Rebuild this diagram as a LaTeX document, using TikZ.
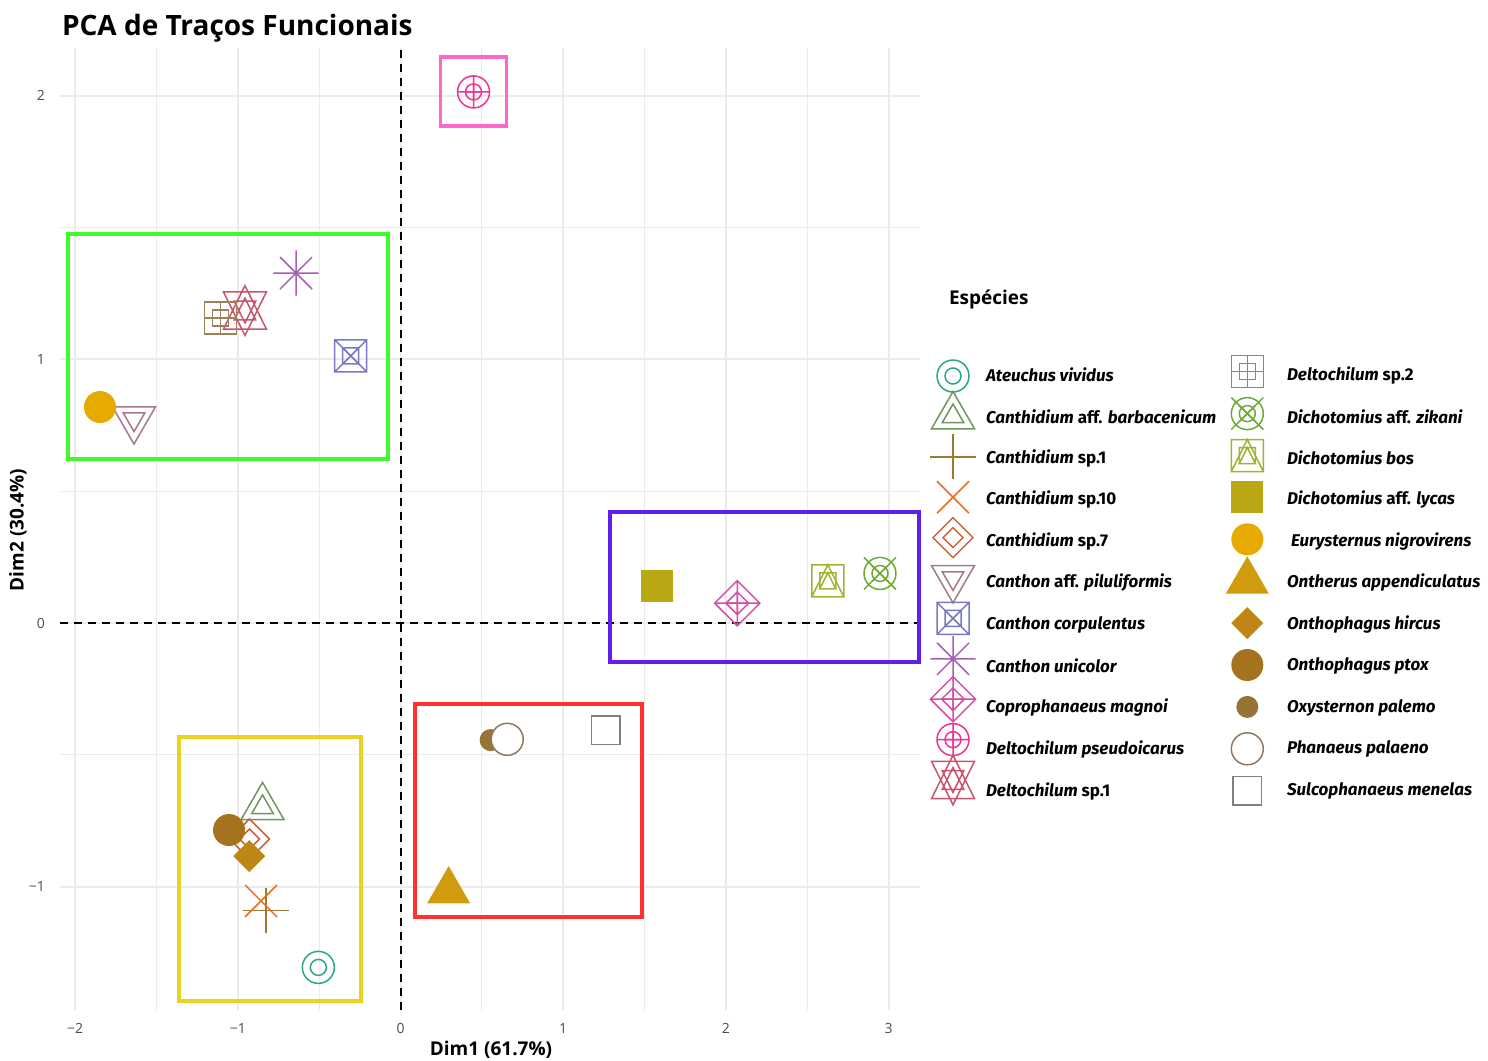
\documentclass[tikz,border=0pt]{standalone}
\usepackage{fontspec}
\setmainfont{Open Sans}
\newfontfamily\legfont{Fira Sans}
\begin{document}
\begin{tikzpicture}[x=0.5pt, y=-0.5pt,
    grade/.style={black!8, line width=1pt},
    grademenor/.style={black!8, line width=0.5pt},
    eixo/.style={black, line width=1pt, dash pattern=on 4pt off 3pt},
    caixa/.style={line width=1.7pt},
    marca/.style={text=black!70, font=\fontsize{7}{8}\selectfont},
    titulo eixo/.style={font=\bfseries\fontsize{9.5}{11}\selectfont},
    rotulo/.style={anchor=west, font=\legfont\bfseries\fontsize{8.5}{10}\selectfont},
    simbolo/.style={line width=0.75pt},
    % formas dos pontos (raio 16 px, eixo y para baixo)
    circulo/.pic={\draw (0,0) circle (16);},
    circbranco/.pic={\filldraw[fill=white] (0,0) circle (16);},
    triangulo/.pic={\draw (0,-24.9) -- (21.5,12.4) -- (-21.5,12.4) -- cycle;},
    triinv/.pic={\draw (0,24.9) -- (21.5,-12.4) -- (-21.5,-12.4) -- cycle;},
    mais/.pic={\draw (-22.6,0) -- (22.6,0) (0,-22.6) -- (0,22.6);},
    xis/.pic={\draw (-16,-16) -- (16,16) (-16,16) -- (16,-16);},
    losango/.pic={\draw (0,-20) -- (20,0) -- (0,20) -- (-20,0) -- cycle;},
    asterisco/.pic={\draw (-22.6,0) -- (22.6,0) (0,-22.6) -- (0,22.6)
      (-16,-16) -- (16,16) (-16,16) -- (16,-16);},
    quadxis/.pic={\draw (-16,-16) rectangle (16,16)
      (-16,-16) -- (16,16) (-16,16) -- (16,-16);},
    losmais/.pic={\draw (0,-22.6) -- (22.6,0) -- (0,22.6) -- (-22.6,0) -- cycle
      (-22.6,0) -- (22.6,0) (0,-22.6) -- (0,22.6);},
    circmais/.pic={\draw (0,0) circle (16) (-16,0) -- (16,0) (0,-16) -- (0,16);},
    estrela/.pic={\draw (0,-24.9) -- (21.5,18.7) -- (-21.5,18.7) -- cycle
      (0,24.9) -- (21.5,-18.7) -- (-21.5,-18.7) -- cycle;},
    quadmais/.pic={\draw (-16,-16) rectangle (16,16)
      (-16,0) -- (16,0) (0,-16) -- (0,16);},
    circxis/.pic={\draw (0,0) circle (16) (-16,-16) -- (16,16) (-16,16) -- (16,-16);},
    quadtri/.pic={\draw (-16,-16) rectangle (16,16) (0,-16) -- (16,16) -- (-16,16) -- cycle;},
    quadrado/.pic={\draw (-14.2,-14.2) rectangle (14.2,14.2);},
    quadcheio/.pic={\fill (-16,-16) rectangle (16,16);},
    circcheio/.pic={\fill (0,0) circle (16);},
    tricheio/.pic={\fill (0,-24.9) -- (21.5,12.4) -- (-21.5,12.4) -- cycle;},
    loscheio/.pic={\fill (0,-16) -- (16,0) -- (0,16) -- (-16,0) -- cycle;},
    ponto/.pic={\fill (0,0) circle (11);},
  ]
  \definecolor{verde}{RGB}{64,250,44}
  \definecolor{rosa}{RGB}{255,102,204}
  \definecolor{roxo}{RGB}{98,30,236}
  \definecolor{vermelho}{RGB}{255,50,50}
  \definecolor{amarelo}{RGB}{236,210,32}
  \definecolor{c-ateuchus}{RGB}{40,168,135}
  \definecolor{c-barbacenicum}{RGB}{110,150,95}
  \definecolor{c-canthsp1}{RGB}{160,120,50}
  \definecolor{c-canthsp10}{RGB}{230,110,30}
  \definecolor{c-canthsp7}{RGB}{200,100,60}
  \definecolor{c-piluliformis}{RGB}{165,120,140}
  \definecolor{c-corpulentus}{RGB}{120,120,195}
  \definecolor{c-unicolor}{RGB}{165,95,180}
  \definecolor{c-magnoi}{RGB}{210,80,165}
  \definecolor{c-pseudoicarus}{RGB}{240,50,150}
  \definecolor{c-deltsp1}{RGB}{200,85,110}
  \definecolor{c-deltsp2}{RGB}{160,130,90}
  \definecolor{c-zikani}{RGB}{110,170,50}
  \definecolor{c-bos}{RGB}{160,180,50}
  \definecolor{c-lycas}{RGB}{185,168,20}
  \definecolor{c-eurysternus}{RGB}{230,170,0}
  \definecolor{c-ontherus}{RGB}{208,155,15}
  \definecolor{c-hircus}{RGB}{190,135,20}
  \definecolor{c-ptox}{RGB}{165,115,30}
  \definecolor{c-palemo}{RGB}{150,115,55}
  \definecolor{c-palaeno}{RGB}{145,120,90}
  \definecolor{c-menelas}{RGB}{128,128,128}

  \useasboundingbox (0,0) rectangle (1488,1060);

  % símbolo numa posição, com a metade por dentro se duplo=1:
  % \simbolo{posição}{forma}{cor}{duplo}
  \newcommand{\simbolo}[4]{%
    \pic[simbolo, color=#3] at (#1) {#2};
    \ifnum#4=1\relax \pic[simbolo, color=#3, scale=.5] at (#1) {#2};\fi}

  % ---------------- Grade, eixos e grupos (coordenadas Dim1/Dim2) ----
  \begin{scope}[shift={(400.5,623)}, x=81.35pt, y=131.85pt]
    \foreach \x in {-1.5,-0.5,...,2.5} \draw[grademenor] (\x,-1.468) -- (\x,2.18);
    \foreach \y in {-0.5,0.5,1.5} \draw[grademenor] (-2.093,\y) -- (3.193,\y);
    \foreach \x in {-2,...,3} \draw[grade] (\x,-1.468) -- (\x,2.18);
    \foreach \y in {-1,...,2} \draw[grade] (-2.093,\y) -- (3.193,\y);
    \draw[eixo] (0,-1.468) -- (0,2.18);
    \draw[eixo] (-2.093,0) -- (3.193,0);
    \foreach \x/\t in {-2/−2,-1/−1,0/0,1/1,2/2,3/3}
      \node[marca] (marca x\x) at (\x,-1.536) {\t};
    \foreach \y/\t in {-1/−1,0/0,1/1,2/2}
      \node[marca, anchor=east] (marca y\y) at (-2.142,\y) {\t};

    % grupos
    \draw[caixa, verde] (-2.044,0.622) rectangle (-0.077,1.475);
    \draw[caixa, rosa] (0.246,1.885) rectangle (0.653,2.146);
    \draw[caixa, roxo] (1.288,-0.148) rectangle (3.187,0.421);
    \draw[caixa, vermelho] (0.089,-1.115) rectangle (1.484,-0.307);
    \draw[caixa, amarelo] (-1.362,-1.433) rectangle (-0.243,-0.432);

    % espécies
    \coordinate (ateuchus)     at (-0.505,-1.306);
    \coordinate (barbacenicum) at (-0.848,-0.699);
    \coordinate (canthsp1)     at (-0.827,-1.091);
    \coordinate (canthsp10)    at (-0.857,-1.054);
    \coordinate (canthsp7)     at (-0.928,-0.819);
    \coordinate (piluliformis) at (-1.638,0.773);
    \coordinate (corpulentus)  at (-0.306,1.013);
    \coordinate (unicolor)     at (-0.642,1.327);
    \coordinate (magnoi)       at (2.070,0.075);
    \coordinate (pseudoicarus) at (0.449,2.014);
    \coordinate (deltsp1)      at (-0.956,1.185);
    \coordinate (deltsp2)      at (-1.106,1.157);
    \coordinate (zikani)       at (2.947,0.188);
    \coordinate (bos)          at (2.626,0.160);
    \coordinate (lycas)        at (1.575,0.141);
    \coordinate (eurysternus)  at (-1.847,0.819);
    \coordinate (ontherus)     at (0.296,-1.016);
    \coordinate (hircus)       at (-0.929,-0.884);
    \coordinate (ptox)         at (-1.054,-0.785);
    \coordinate (palemo)       at (0.554,-0.444);
    \coordinate (palaeno)      at (0.656,-0.441);
    \coordinate (menelas)      at (1.261,-0.406);
  \end{scope}

  % ---------------- Títulos -----------------------------------------
  \node[anchor=base west, font=\bfseries\fontsize{14}{17}\selectfont]
    (titulo) at (55,35) {PCA de Traços Funcionais};
  \node[titulo eixo] (dim1) at (491,1050) {Dim1 (61.7\%)};
  \node[titulo eixo, rotate=90] (dim2) at (18,530) {Dim2 (30.4\%)};
  \node[titulo eixo, anchor=west] (legenda) at (942,300) {Espécies};

  % ---------------- Pontos e legenda --------------------------------
  \foreach \nome/\forma/\duplo/\texto [count=\i from 0] in {
      ateuchus/circulo/1/{\textit{Ateuchus vividus}},
      barbacenicum/triangulo/1/{\textit{Canthidium} aff. \textit{barbacenicum}},
      canthsp1/mais/0/{\textit{Canthidium} sp.1},
      canthsp10/xis/0/{\textit{Canthidium} sp.10},
      canthsp7/losango/1/{\textit{Canthidium} sp.7},
      piluliformis/triinv/1/{\textit{Canthon} aff. \textit{piluliformis}},
      corpulentus/quadxis/1/{\textit{Canthon corpulentus}},
      unicolor/asterisco/0/{\textit{Canthon unicolor}},
      magnoi/losmais/1/{\textit{Coprophanaeus magnoi}},
      pseudoicarus/circmais/1/{\textit{Deltochilum pseudoicarus}},
      deltsp1/estrela/1/{\textit{Deltochilum} sp.1}} {
    \simbolo{\nome}{\forma}{c-\nome}{\duplo}
    \coordinate (s-\nome) at (953,376+40.4*\i);
    \simbolo{s-\nome}{\forma}{c-\nome}{\duplo}
    \node[rotulo] (l-\nome) at (979,375+41.6*\i) {\texto};
  }
  \foreach \nome/\forma/\duplo/\texto [count=\i from 0] in {
      deltsp2/quadmais/1/{\textit{Deltochilum} sp.2},
      zikani/circxis/1/{\textit{Dichotomius} aff. \textit{zikani}},
      bos/quadtri/1/{\textit{Dichotomius bos}},
      lycas/quadcheio/0/{\textit{Dichotomius} aff. \textit{lycas}},
      eurysternus/circcheio/0/{\hspace{2pt}\textit{Eurysternus nigrovirens}},
      ontherus/tricheio/0/{\textit{Ontherus appendiculatus}},
      hircus/loscheio/0/{\textit{Onthophagus hircus}},
      ptox/circcheio/0/{\textit{Onthophagus ptox}},
      palemo/ponto/0/{\textit{Oxysternon palemo}},
      palaeno/circbranco/0/{\textit{Phanaeus palaeno}},
      menelas/quadrado/0/{\textit{Sulcophanaeus menelas}}} {
    \simbolo{\nome}{\forma}{c-\nome}{\duplo}
    \coordinate (s-\nome) at (1247.3,371.7+41.9*\i);
    \simbolo{s-\nome}{\forma}{c-\nome}{\duplo}
    \node[rotulo] (l-\nome) at (1280,375+41.6*\i) {\texto};
  }
\end{tikzpicture}
\end{document}
